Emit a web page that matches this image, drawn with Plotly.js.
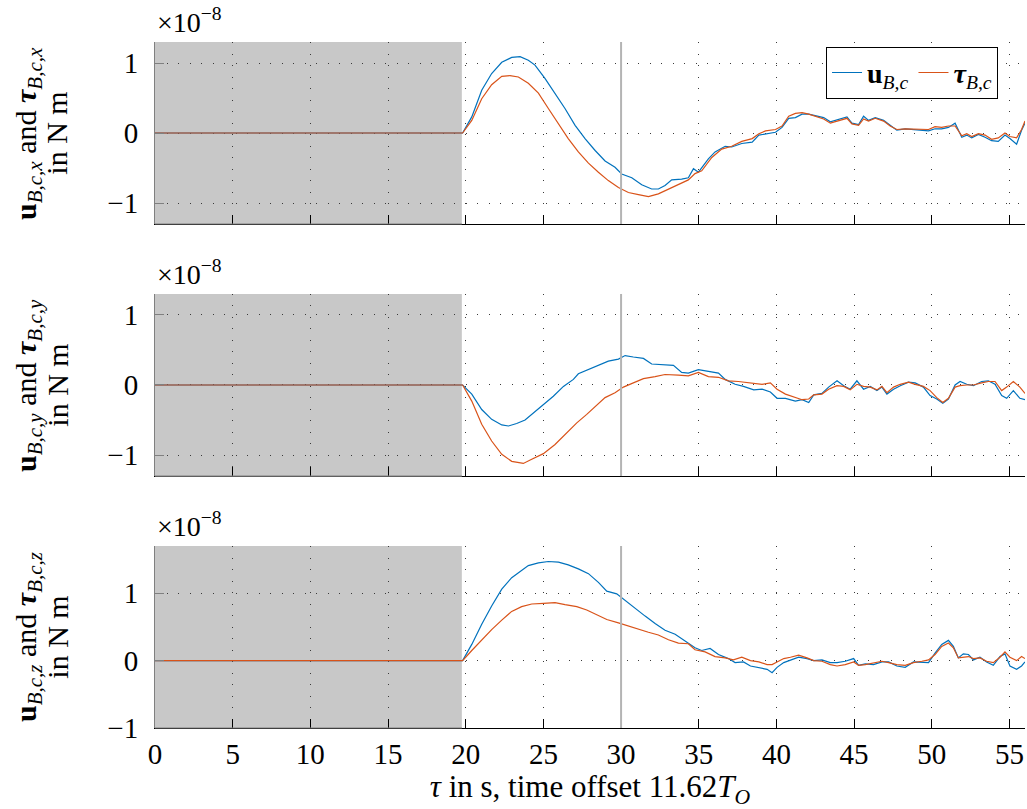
<!DOCTYPE html>
<html>
<head>
<meta charset="utf-8">
<script src="https://cdn.plot.ly/plotly-3.0.1.min.js"></script>
<style>
  html, body { margin: 0; padding: 0; background: #fff; }
  #chart { width: 1027px; height: 809px; }
</style>
</head>
<body>
<div id="chart"></div>
<script>
// Body torque components, in units of 1e-8 N m, versus tau in s.
// x component
const tUx = [0, 19.8, 20.39, 21.03, 21.67, 22.32, 22.96, 23.5, 24.03, 24.46, 25.1, 25.75, 26.39, 27.04, 27.68, 28.33, 28.97, 29.61, 30.04, 30.69, 31.33, 31.97, 32.4, 32.83, 33.26, 33.9, 34.33, 34.66, 34.98, 35.62, 36.05, 36.7, 37.12, 37.77, 38.44, 38.87, 39.5, 39.94, 40.36, 40.79, 41.22, 41.65, 42.08, 42.5, 43.04, 43.47, 44.0, 44.54, 44.86, 45.29, 45.61, 45.93, 46.36, 46.9, 47.32, 47.75, 48.29, 48.72, 49.25, 49.79, 50.21, 50.64, 51.07, 51.5, 51.93, 52.25, 52.57, 53.0, 53.43, 53.85, 54.28, 54.71, 55.03, 55.46, 55.78, 56];
const uX  = [0, 0, 0.23, 0.61, 0.85, 1.01, 1.08, 1.09, 1.04, 0.97, 0.78, 0.57, 0.35, 0.11, -0.08, -0.25, -0.40, -0.49, -0.585, -0.64, -0.74, -0.80, -0.80, -0.75, -0.67, -0.66, -0.64, -0.51, -0.56, -0.37, -0.27, -0.19, -0.20, -0.15, -0.13, -0.03, -0.01, 0.01, 0.08, 0.21, 0.22, 0.27, 0.27, 0.25, 0.22, 0.16, 0.20, 0.23, 0.14, 0.12, 0.24, 0.18, 0.22, 0.18, 0.11, 0.04, 0.06, 0.05, 0.04, 0.03, 0.06, 0.06, 0.08, 0.14, -0.06, -0.03, -0.07, -0.02, -0.06, -0.11, -0.12, -0.03, -0.08, -0.16, 0.04, 0.14];
const tTx = [0, 19.8, 20.39, 21.03, 21.67, 22.32, 22.85, 23.39, 24.03, 24.68, 25.32, 25.97, 26.6, 27.25, 27.9, 28.54, 29.18, 29.83, 30.47, 31.12, 31.76, 32.4, 33.05, 33.69, 34.33, 34.76, 35.19, 35.84, 36.48, 37.12, 37.77, 38.44, 38.87, 39.3, 39.94, 40.36, 40.79, 41.22, 41.65, 42.08, 42.5, 43.04, 43.47, 44.0, 44.54, 44.86, 45.29, 45.61, 45.93, 46.36, 46.9, 47.32, 47.75, 48.29, 48.72, 49.25, 49.79, 50.21, 50.64, 51.07, 51.5, 51.93, 52.25, 52.57, 53.0, 53.43, 53.85, 54.28, 54.71, 55.03, 55.46, 55.78, 56];
const tauX = [0, 0, 0.18, 0.49, 0.69, 0.81, 0.82, 0.80, 0.71, 0.57, 0.35, 0.13, -0.08, -0.27, -0.43, -0.56, -0.68, -0.78, -0.85, -0.88, -0.91, -0.87, -0.80, -0.73, -0.67, -0.58, -0.54, -0.35, -0.23, -0.19, -0.12, -0.08, -0.01, 0.03, 0.05, 0.10, 0.24, 0.28, 0.29, 0.27, 0.24, 0.20, 0.14, 0.18, 0.21, 0.13, 0.11, 0.20, 0.17, 0.21, 0.17, 0.10, 0.05, 0.06, 0.06, 0.05, 0.05, 0.09, 0.08, 0.10, 0.10, -0.04, -0.01, -0.05, -0.01, -0.03, -0.09, -0.07, 0.00, -0.05, -0.07, 0.05, 0.17];

// y component
const tUy = [0, 19.8, 20.39, 21.03, 21.67, 22.32, 22.75, 23.28, 23.82, 24.36, 25.0, 25.64, 26.29, 26.93, 27.25, 27.9, 28.54, 29.18, 29.83, 30.26, 30.79, 31.44, 31.97, 32.62, 33.37, 33.9, 34.33, 34.98, 35.62, 36.27, 36.7, 37.34, 37.88, 38.54, 39.08, 39.61, 40.04, 40.58, 41.22, 41.65, 42.08, 42.4, 42.93, 43.36, 43.9, 44.33, 44.75, 45.18, 45.61, 46.04, 46.47, 46.79, 47.11, 47.54, 47.97, 48.5, 48.93, 49.46, 49.89, 50.32, 50.71, 51.07, 51.5, 51.82, 52.25, 52.68, 53.21, 53.64, 54.07, 54.5, 54.82, 55.25, 55.67, 56];
const uY  = [0, 0, -0.13, -0.35, -0.49, -0.57, -0.585, -0.55, -0.50, -0.40, -0.29, -0.16, -0.02, 0.08, 0.16, 0.22, 0.28, 0.34, 0.37, 0.42, 0.40, 0.38, 0.30, 0.29, 0.28, 0.18, 0.17, 0.22, 0.19, 0.17, 0.08, 0.01, -0.02, -0.07, -0.06, -0.10, -0.19, -0.19, -0.23, -0.21, -0.25, -0.14, -0.12, -0.03, 0.06, -0.01, -0.06, 0.06, -0.06, -0.02, -0.08, -0.03, -0.13, -0.06, -0.01, 0.04, 0.03, -0.03, -0.15, -0.20, -0.26, -0.20, 0.00, 0.05, 0.01, -0.01, 0.05, 0.06, 0.01, -0.15, -0.19, -0.08, -0.19, -0.21];
const tTy = [0, 19.8, 20.39, 21.03, 21.67, 22.32, 22.96, 23.71, 24.25, 25.0, 25.75, 26.39, 27.15, 27.79, 28.43, 28.97, 29.61, 30.15, 30.79, 31.44, 32.19, 32.83, 33.69, 34.33, 34.98, 35.62, 36.27, 36.91, 37.55, 37.98, 38.54, 39.08, 39.61, 40.04, 40.58, 41.22, 41.65, 42.08, 42.4, 42.93, 43.36, 43.9, 44.33, 44.75, 45.18, 45.61, 46.04, 46.47, 46.79, 47.11, 47.54, 47.97, 48.5, 48.93, 49.46, 49.89, 50.32, 50.71, 51.07, 51.5, 51.82, 52.25, 52.68, 53.21, 53.64, 54.07, 54.5, 54.82, 55.25, 55.67, 56];
const tauY = [0, 0, -0.23, -0.56, -0.80, -0.99, -1.09, -1.12, -1.06, -0.98, -0.85, -0.71, -0.54, -0.42, -0.29, -0.18, -0.11, -0.03, 0.03, 0.09, 0.12, 0.15, 0.14, 0.13, 0.18, 0.12, 0.11, 0.06, 0.05, 0.04, 0.03, 0.01, 0.03, -0.06, -0.13, -0.18, -0.21, -0.20, -0.14, -0.13, -0.06, -0.01, -0.02, -0.07, 0.01, -0.02, -0.03, -0.07, -0.02, -0.11, -0.03, 0.01, 0.04, 0.01, -0.02, -0.08, -0.18, -0.25, -0.19, -0.03, -0.01, 0.00, 0.00, 0.03, 0.05, 0.05, -0.08, -0.03, 0.05, -0.03, -0.12];

// z component
const tUz = [0, 19.8, 20.39, 21.03, 21.67, 22.32, 22.96, 23.6, 24.03, 24.68, 25.32, 25.97, 26.6, 27.25, 27.9, 28.54, 29.08, 29.72, 30.26, 30.9, 31.55, 32.19, 32.83, 33.48, 34.12, 34.76, 35.19, 35.73, 36.27, 36.91, 37.34, 37.88, 38.33, 38.87, 39.4, 39.72, 40.04, 40.47, 40.9, 41.43, 41.97, 42.4, 42.93, 43.47, 43.9, 44.43, 44.97, 45.29, 45.72, 46.25, 46.79, 47.22, 47.75, 48.29, 48.82, 49.36, 49.79, 50.21, 50.64, 51.07, 51.39, 51.71, 52.03, 52.36, 52.68, 53.1, 53.53, 53.96, 54.39, 54.71, 55.03, 55.46, 55.78, 56];
const uZ  = [0, 0, 0.24, 0.54, 0.81, 1.06, 1.23, 1.34, 1.41, 1.45, 1.47, 1.46, 1.42, 1.36, 1.29, 1.16, 1.03, 0.99, 0.89, 0.78, 0.66, 0.55, 0.45, 0.39, 0.29, 0.19, 0.15, 0.18, 0.09, 0.03, -0.03, -0.02, -0.08, -0.10, -0.13, -0.18, -0.10, -0.03, 0.01, 0.05, 0.03, 0.00, 0.01, -0.03, -0.03, -0.01, 0.03, -0.07, -0.05, -0.06, -0.02, -0.02, -0.08, -0.10, -0.02, -0.03, -0.03, 0.11, 0.24, 0.30, 0.21, 0.04, 0.10, 0.09, 0.01, 0.05, -0.02, -0.07, 0.06, 0.10, -0.08, -0.13, -0.08, -0.02];
const tTz = [0, 19.8, 20.39, 21.03, 21.67, 22.32, 22.96, 23.6, 24.25, 25.0, 25.75, 26.39, 27.15, 27.79, 28.43, 29.08, 29.83, 30.47, 31.12, 31.76, 32.4, 33.05, 33.69, 34.33, 34.76, 35.41, 36.05, 36.7, 37.23, 37.77, 38.33, 38.87, 39.4, 39.72, 40.04, 40.47, 40.9, 41.43, 41.97, 42.4, 42.93, 43.47, 43.9, 44.43, 44.97, 45.29, 45.72, 46.25, 46.79, 47.22, 47.75, 48.29, 48.82, 49.36, 49.79, 50.21, 50.64, 51.07, 51.39, 51.71, 52.03, 52.36, 52.68, 53.1, 53.53, 53.96, 54.39, 54.71, 55.03, 55.46, 55.78, 56];
const tauZ = [0, 0, 0.15, 0.31, 0.46, 0.60, 0.73, 0.80, 0.84, 0.85, 0.86, 0.83, 0.80, 0.75, 0.68, 0.61, 0.56, 0.51, 0.46, 0.42, 0.38, 0.31, 0.26, 0.25, 0.16, 0.13, 0.06, 0.04, 0.01, 0.05, 0.00, -0.02, -0.06, -0.06, -0.02, 0.03, 0.05, 0.08, 0.04, 0.00, -0.01, -0.06, -0.08, -0.06, -0.02, -0.07, -0.06, -0.03, -0.01, -0.03, -0.06, -0.07, -0.03, -0.01, 0.01, 0.09, 0.21, 0.26, 0.19, 0.04, 0.05, 0.06, 0.03, 0.04, -0.01, -0.03, 0.05, 0.13, 0.05, 0.00, 0.06, 0.03];

const xTicks = [0, 5, 10, 15, 20, 25, 30, 35, 40, 45, 50, 55];
const yTicks = [-1, 0, 1];
const components = ['x', 'y', 'z'];
const shadeEnd = 19.75;   // end of the grey interval
const markerTime = 30;    // vertical reference line

const BLUE = '#0072BD';
const ORANGE = '#D95319';
const FAMILY = 'Liberation Serif';
const f = (size) => ({family: FAMILY, size: size, color: '#000'});

const series = [
  {tu: tUx, u: uX, tt: tTx, tau: tauX},
  {tu: tUy, u: uY, tt: tTy, tau: tauY},
  {tu: tUz, u: uZ, tt: tTz, tau: tauZ}
];

const traces = [];
series.forEach((s, i) => {
  const xa = i === 0 ? 'x' : 'x' + (i + 1);
  const ya = i === 0 ? 'y' : 'y' + (i + 1);
  traces.push({
    x: s.tu, y: s.u, xaxis: xa, yaxis: ya, mode: 'lines', type: 'scatter',
    line: {color: BLUE, width: 1.2}, name: '<b>u</b><sub><i>B,c</i></sub>',
    showlegend: i === 0, hoverinfo: 'skip'
  });
  traces.push({
    x: s.tt, y: s.tau, xaxis: xa, yaxis: ya, mode: 'lines', type: 'scatter',
    line: {color: ORANGE, width: 1.2}, name: '<b><i>τ</i></b><sub><i>B,c</i></sub>',
    showlegend: i === 0, hoverinfo: 'skip'
  });
});

const domains = [[0.7347, 1], [0.3673, 0.6327], [0, 0.2653]];
const yRanges = [[-1.3, 1.3], [-1.3, 1.3], [-1, 1.7]];

const gridStyle = {
  showgrid: true, gridcolor: '#3a3a3a', gridwidth: 1, griddash: '1px,10.5px',
  zeroline: false
};

const layout = {
  width: 1027, height: 809,
  margin: {l: 155, r: 2, t: 42, b: 81},
  paper_bgcolor: '#fff', plot_bgcolor: '#fff',
  font: f(28),
  showlegend: true,
  legend: {
    orientation: 'h', x: 0.969, xanchor: 'right', y: 0.993, yanchor: 'top',
    bordercolor: '#000', borderwidth: 1, bgcolor: '#fff',
    font: f(28), tracegroupgap: 0, itemwidth: 30
  },
  shapes: [],
  annotations: []
};

components.forEach((c, i) => {
  const xk = i === 0 ? 'xaxis' : 'xaxis' + (i + 1);
  const yk = i === 0 ? 'yaxis' : 'yaxis' + (i + 1);
  const xr = i === 0 ? 'x' : 'x' + (i + 1);
  const yr = i === 0 ? 'y' : 'y' + (i + 1);
  layout[xk] = Object.assign({
    range: [0, 56], tickvals: xTicks, ticks: 'inside', ticklen: 9,
    tickcolor: '#000', tickwidth: 1, showline: true, linecolor: '#000', linewidth: 1,
    anchor: yr, showticklabels: i === 2, tickfont: f(29),
    fixedrange: true
  }, gridStyle);
  if (i === 2) {
    layout[xk].title = {
      text: '<i>τ</i> in s, time offset 11.62<i>T</i><sub><i>O</i></sub>',
      font: f(31), standoff: 6
    };
  }
  layout[yk] = Object.assign({
    range: yRanges[i], tickvals: yTicks, ticks: 'inside', ticklen: 9,
    tickcolor: '#808080', tickwidth: 1, showline: true, linecolor: '#808080', linewidth: 1,
    anchor: xr, domain: domains[i], tickfont: f(29), ticklabelstandoff: 10,
    fixedrange: true
  }, gridStyle);

  // grey interval before the excitation starts
  layout.shapes.push({
    type: 'rect', xref: xr, yref: yr + ' domain', x0: 0, x1: shadeEnd, y0: 0, y1: 1,
    fillcolor: '#c8c8c8', line: {width: 0}, layer: 'below'
  });
  // bottom axis segment inside the grey interval
  layout.shapes.push({
    type: 'line', xref: xr, yref: yr + ' domain', x0: 0, x1: shadeEnd, y0: 0, y1: 0,
    line: {color: '#808080', width: 1.2}, layer: 'above'
  });
  // reference time marker
  layout.shapes.push({
    type: 'line', xref: xr, yref: yr + ' domain', x0: markerTime, x1: markerTime, y0: 0, y1: 1,
    line: {color: '#b4b4b4', width: 2}, layer: 'above'
  });
  // axis exponent
  layout.annotations.push({
    xref: xr + ' domain', yref: yr + ' domain', x: 0, y: 1, xanchor: 'left', yanchor: 'bottom',
    xshift: 0, yshift: 2, showarrow: false, text: '×10<sup>−8</sup>', font: f(28)
  });
  // y-axis label, two lines
  layout.annotations.push({
    xref: 'paper', yref: yr + ' domain', x: -0.146, y: 0.5, xanchor: 'center', yanchor: 'middle',
    textangle: -90, showarrow: false, font: f(30),
    text: '<b>u</b><sub><i>B,c,' + c + '</i></sub> and <b><i>τ</i></b><sub><i>B,c,' + c + '</i></sub>'
  });
  layout.annotations.push({
    xref: 'paper', yref: yr + ' domain', x: -0.113, y: 0.5, xanchor: 'center', yanchor: 'middle',
    textangle: -90, showarrow: false, font: f(30), text: 'in N m'
  });
});

Plotly.newPlot('chart', traces, layout, {displayModeBar: false, staticPlot: true});
</script>
</body>
</html>
